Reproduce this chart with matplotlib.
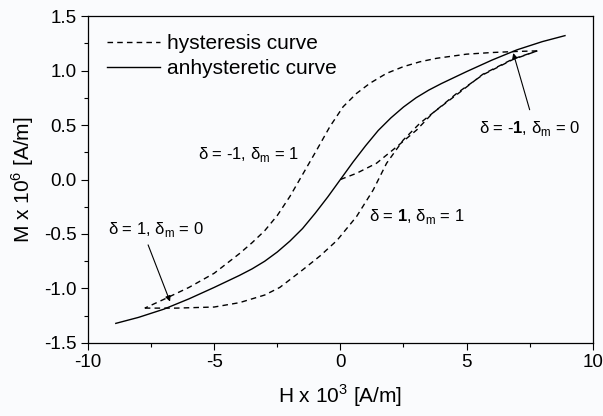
import numpy as np
import matplotlib
matplotlib.use('Agg')
import matplotlib.pyplot as plt
from matplotlib.ticker import MultipleLocator, FormatStrFormatter

plt.rcParams['font.family'] = ['Liberation Sans', 'DejaVu Sans']
plt.rcParams['mathtext.fontset'] = 'custom'
plt.rcParams['mathtext.rm'] = 'Liberation Sans'
plt.rcParams['mathtext.bf'] = 'Liberation Sans:bold'
plt.rcParams['axes.unicode_minus'] = False

H_anh_pos = [0.0, 0.5, 1.0, 1.5, 2.0, 2.5, 3.0, 3.5, 4.0, 5.0, 6.0, 7.0, 8.0, 8.9]
M_anh_pos = [0.0, 0.16, 0.31, 0.45, 0.565, 0.665, 0.75, 0.82, 0.88, 0.99, 1.095, 1.19, 1.265, 1.32]

# descending branch (delta = -1)
H_down = [7.8, 7.0, 6.0, 5.0, 3.81, 3.15, 2.49, 1.83, 1.17, 0.64, 0.11, -0.42, -0.94,
          -1.47, -2.0, -2.5, -3.0, -3.5, -4.0, -5.0, -6.0, -7.0, -7.75]
M_down = [1.18, 1.175, 1.165, 1.15, 1.112, 1.08, 1.035, 0.974, 0.883, 0.79, 0.668, 0.484,
          0.27, 0.057, -0.155, -0.33, -0.47, -0.58, -0.68, -0.86, -0.99, -1.10, -1.18]

# ascending branch (delta = 1)
H_up = [-7.75, -6.5, -5.0, -4.0, -3.0, -2.4, -1.5, -0.8, -0.14, 0.64, 1.3, 1.83, 2.49,
        3.15, 3.81, 4.61, 5.64, 6.83, 7.8]
M_up = [-1.18, -1.18, -1.17, -1.13, -1.06, -0.99, -0.83, -0.70, -0.56, -0.34, -0.096,
        0.149, 0.362, 0.516, 0.638, 0.79, 0.96, 1.10, 1.18]

# initial magnetisation curve
H_ini = [0.0, 0.64, 1.43, 2.23, 3.02, 3.66, 4.22, 4.73, 5.64, 6.83, 7.8]
M_ini = [0.0, 0.057, 0.149, 0.30, 0.454, 0.61, 0.71, 0.80, 0.965, 1.105, 1.18]

H_anh = [-h for h in H_anh_pos[::-1]] + H_anh_pos[1:]
M_anh = [-m for m in M_anh_pos[::-1]] + M_anh_pos[1:]

bg = '#fafbfd'
fig = plt.figure(figsize=(6.03, 4.16), dpi=100, facecolor=bg)
ax = fig.add_axes([0.146, 0.1755, 0.837, 0.786], facecolor=bg)

dash = (0, (4, 3))
ax.plot(H_down, M_down, color='black', lw=1.0, linestyle=dash, label='hysteresis curve')
ax.plot(H_up, M_up, color='black', lw=1.0, linestyle=dash)
ax.plot(H_ini, M_ini, color='black', lw=1.0, linestyle=dash)
ax.plot(H_anh, M_anh, color='black', lw=1.0, label='anhysteretic curve')

fs = 12
ax.text(-5.65, 0.225, 'δ = -1, δ$_{\\rm m}$ = 1', fontsize=fs, va='center')
ax.text(5.5, 0.47, 'δ = -$\\mathbf{1}$, δ$_{\\rm m}$ = 0', fontsize=fs, va='center')
ax.text(1.15, -0.34, 'δ = $\\mathbf{1}$, δ$_{\\rm m}$ = 1', fontsize=fs, va='center')
ax.text(-9.2, -0.46, 'δ = 1, δ$_{\\rm m}$ = 0', fontsize=fs, va='center')

ax.annotate('', xy=(6.85, 1.16), xytext=(7.5, 0.64),
            arrowprops=dict(arrowstyle='-|>', color='black', lw=0.8,
                            mutation_scale=8, shrinkA=0, shrinkB=0))
ax.annotate('', xy=(-6.75, -1.12), xytext=(-7.62, -0.6),
            arrowprops=dict(arrowstyle='-|>', color='black', lw=0.8,
                            mutation_scale=8, shrinkA=0, shrinkB=0))

ax.set_xlim(-10, 10)
ax.set_ylim(-1.5, 1.5)
ax.xaxis.set_major_locator(MultipleLocator(5))
ax.xaxis.set_minor_locator(MultipleLocator(2.5))
ax.yaxis.set_major_locator(MultipleLocator(0.5))
ax.yaxis.set_minor_locator(MultipleLocator(0.25))
ax.yaxis.set_major_formatter(FormatStrFormatter('%.1f'))
ax.tick_params(which='major', direction='out', length=5, width=0.8, labelsize=13.5, pad=3)
ax.tick_params(which='minor', direction='out', length=3, width=0.8)
for s in ax.spines.values():
    s.set_linewidth(0.9)

ax.set_xlabel('H x 10$^3$ [A/m]', fontsize=15, labelpad=8)
ax.set_ylabel('M x 10$^6$ [A/m]', fontsize=15, labelpad=6)

leg = ax.legend(loc='upper left', bbox_to_anchor=(0.037, 0.945), frameon=False,
                fontsize=15, handlelength=2.55, handletextpad=0.35,
                borderaxespad=0, borderpad=0, labelspacing=0.3)

plt.savefig('out.png', dpi=100, facecolor=bg)
